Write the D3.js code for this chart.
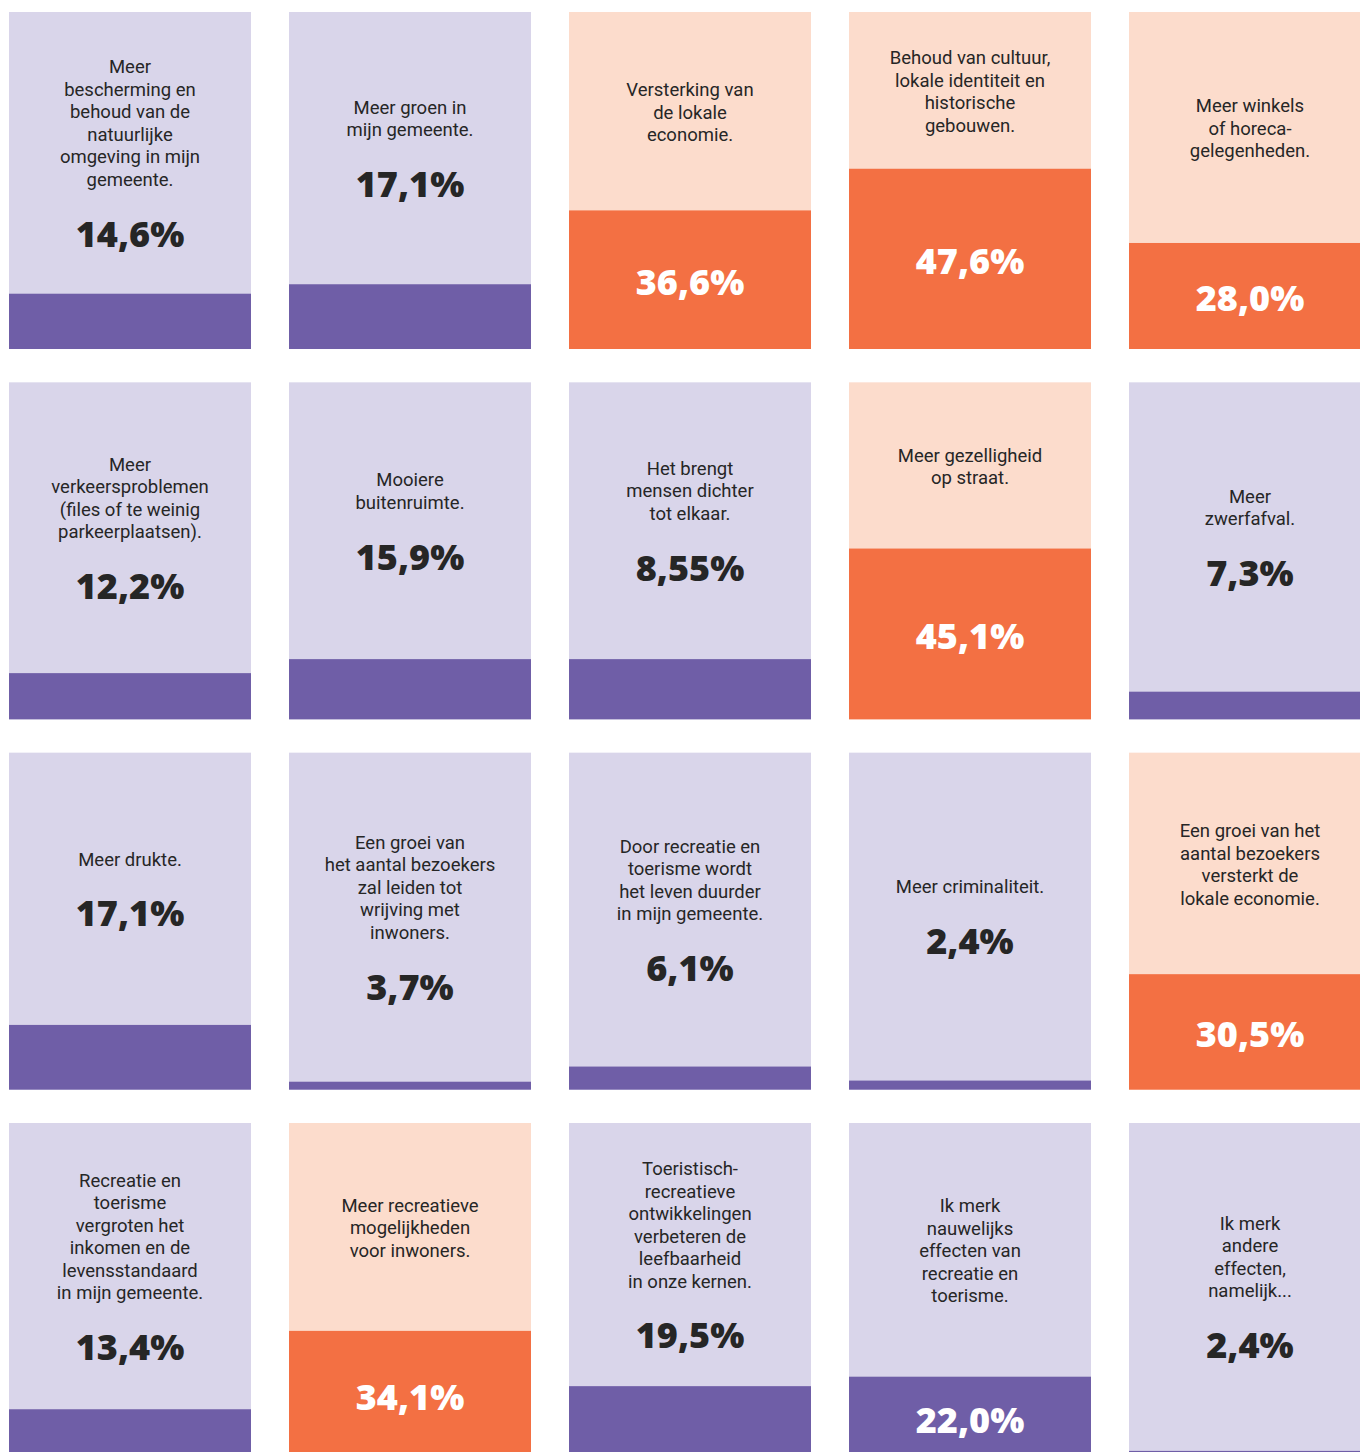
<!DOCTYPE html>
<html>
<head>
<meta charset="utf-8">
<script src="https://cdn.jsdelivr.net/npm/d3@7"></script>
<style>
  html, body { margin: 0; padding: 0; background: #ffffff; }
  svg { display: block; }
</style>
</head>
<body>
<div id="chart"></div>
<script>
// ---- Data ----
const statements = [
  ["Meer", "bescherming en", "behoud van de", "natuurlijke", "omgeving in mijn", "gemeente."],
  ["Meer groen in", "mijn gemeente."],
  ["Versterking van", "de lokale", "economie."],
  ["Behoud van cultuur,", "lokale identiteit en", "historische", "gebouwen."],
  ["Meer winkels", "of horeca-", "gelegenheden."],
  ["Meer", "verkeersproblemen", "(files of te weinig", "parkeerplaatsen)."],
  ["Mooiere", "buitenruimte."],
  ["Het brengt", "mensen dichter", "tot elkaar."],
  ["Meer gezelligheid", "op straat."],
  ["Meer", "zwerfafval."],
  ["Meer drukte."],
  ["Een groei van", "het aantal bezoekers", "zal leiden tot", "wrijving met", "inwoners."],
  ["Door recreatie en", "toerisme wordt", "het leven duurder", "in mijn gemeente."],
  ["Meer criminaliteit."],
  ["Een groei van het", "aantal bezoekers", "versterkt de", "lokale economie."],
  ["Recreatie en", "toerisme", "vergroten het", "inkomen en de", "levensstandaard", "in mijn gemeente."],
  ["Meer recreatieve", "mogelijkheden", "voor inwoners."],
  ["Toeristisch-", "recreatieve", "ontwikkelingen", "verbeteren de", "leefbaarheid", "in onze kernen."],
  ["Ik merk", "nauwelijks", "effecten van", "recreatie en", "toerisme."],
  ["Ik merk", "andere", "effecten,", "namelijk..."]
];
const pctLabels = ["14,6%", "17,1%", "36,6%", "47,6%", "28,0%",
                   "12,2%", "15,9%", "8,55%", "45,1%", "7,3%",
                   "17,1%", "3,7%", "6,1%", "2,4%", "30,5%",
                   "13,4%", "34,1%", "19,5%", "22,0%", "2,4%"];
// bar heights as drawn in the picture (percent)
const barValues = [14.6, 17.1, 36.6, 47.6, 28.0,
                   12.2, 15.9, 15.9, 45.1, 7.3,
                   17.1, 2.1, 6.1, 2.4, 30.5,
                   13.4, 34.1, 19.5, 22.0, 2.4];
const highlighted = [false, false, true, true, true,
                     false, false, false, true, false,
                     false, false, false, false, true,
                     false, true, false, false, false];

// ---- Layout ----
const W = 1360, H = 1452;
const nCols = 5, nRows = 4;
const colors = {
  lightPurple: "#d9d5ea", darkPurple: "#6f5ea7",
  lightOrange: "#fcdccc", orange: "#f37043",
  text: "#262626"
};

const svg = d3.select("#chart").append("svg")
  .attr("width", W).attr("height", H);

const x = d3.scaleBand().domain(d3.range(nCols)).range([9, 1371]).paddingInner(38 / 280).paddingOuter(0);
const y = d3.scaleBand().domain(d3.range(nRows)).range([12, 1460]).paddingInner(33.33 / 370.33).paddingOuter(0);
const cardH = y.bandwidth();
const fillScale = d3.scaleLinear().domain([0, 89]).range([0, cardH]);

const data = statements.map((lines, i) => ({
  lines, pct: pctLabels[i], v: barValues[i], hi: highlighted[i],
  col: i % nCols, row: Math.floor(i / nCols)
}));

const lineH = 22.5;
const labelSize = 18.5;
const pctSize = 36;
const labelCapHalf = 6.5;
const pctCapHalf = 12.9;

const cards = svg.selectAll("g.card").data(data).join("g")
  .attr("class", "card")
  .attr("transform", d => `translate(${x(d.col)},${y(d.row)})`);

cards.append("rect")
  .attr("width", x.bandwidth()).attr("height", cardH)
  .attr("fill", d => d.hi ? colors.lightOrange : colors.lightPurple);

cards.append("rect")
  .attr("y", d => cardH - fillScale(d.v))
  .attr("width", x.bandwidth())
  .attr("height", d => fillScale(d.v))
  .attr("fill", d => d.hi ? colors.orange : colors.darkPurple);

cards.each(function(d) {
  const g = d3.select(this);
  const cx = x.bandwidth() / 2;
  const fillTop = cardH - fillScale(d.v);
  const lightCenter = fillTop / 2;
  const split = d.v >= 20;
  const n = d.lines.length;
  let firstLineCenter, pctCenter, pctColor;
  if (split) {
    firstLineCenter = lightCenter + 1 - (n - 1) * lineH / 2;
    pctCenter = fillTop + (cardH - fillTop) / 2 + 2;
    pctColor = "#ffffff";
  } else {
    const gap = 54.5;
    const span = (n - 1) * lineH + gap;
    const mid = lightCenter - 2.5;
    firstLineCenter = mid - span / 2;
    pctCenter = firstLineCenter + (n - 1) * lineH + gap;
    pctColor = colors.text;
  }
  const t = g.append("text")
    .attr("text-anchor", "middle")
    .attr("font-family", "Roboto, 'Noto Sans', sans-serif")
    .attr("font-size", labelSize)
    .attr("fill", colors.text);
  d.lines.forEach((ln, k) => {
    t.append("tspan").attr("x", cx)
      .attr("y", firstLineCenter + k * lineH + labelCapHalf)
      .text(ln);
  });
  g.append("text")
    .attr("text-anchor", "middle")
    .attr("x", cx)
    .attr("y", pctCenter + pctCapHalf)
    .attr("font-family", "'Open Sans', 'Noto Sans', sans-serif")
    .attr("font-weight", 800)
    .attr("font-size", pctSize)
    .attr("fill", pctColor)
    .text(d.pct);
});
</script>
</body>
</html>
